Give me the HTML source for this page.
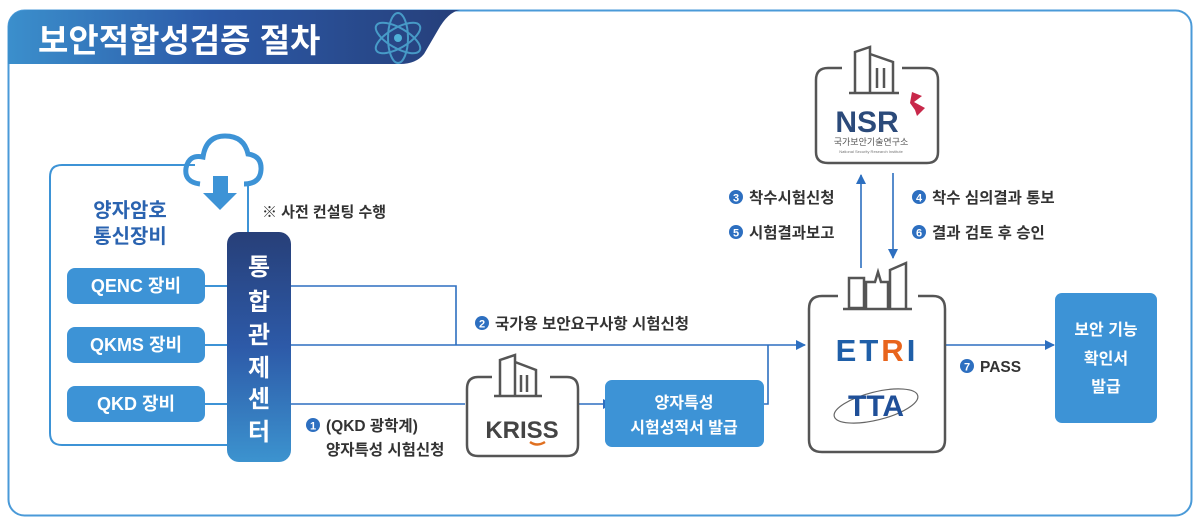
<!DOCTYPE html>
<html><head><meta charset="utf-8">
<style>
body{margin:0;width:1200px;height:521px;background:#fff;overflow:hidden;font-family:"Liberation Sans","Noto Sans CJK KR",sans-serif;}
svg text{font-family:"Liberation Sans","Noto Sans CJK KR",sans-serif;}
</style></head><body>
<svg width="1200" height="521" viewBox="0 0 1200 521" xmlns="http://www.w3.org/2000/svg">
<defs>
<linearGradient id="tg" x1="0" x2="1"><stop offset="0" stop-color="#3b8fcc"/><stop offset="0.45" stop-color="#2c5aa8"/><stop offset="1" stop-color="#263f7a"/></linearGradient>
<linearGradient id="bg" x1="0" y1="0" x2="0" y2="1"><stop offset="0" stop-color="#273f78"/><stop offset="0.5" stop-color="#2d5aa8"/><stop offset="1" stop-color="#3c93cf"/></linearGradient>
<marker id="ar" markerWidth="10" markerHeight="10" refX="9" refY="5" orient="auto" markerUnits="userSpaceOnUse"><path d="M0,0 L10,5 L0,10 z" fill="#2d6fc0"/></marker>
</defs>
<rect x="8.5" y="10.5" width="1183" height="505" rx="16" fill="none" stroke="#4a9ad8" stroke-width="2"/>
<path d="M8,64 L8,30 Q8,10 28,10 L460,10 Q448,12 438,30 L424,54 Q416,64 400,64 Z" fill="url(#tg)"/>
<text x="38" y="52" font-size="33" font-weight="bold" fill="#fff">보안적합성검증 절차</text>
<g stroke="#4fb0d8" stroke-width="2" fill="none" opacity="0.8">
<ellipse cx="398" cy="38" rx="25" ry="10" transform="rotate(30 398 38)"/>
<ellipse cx="398" cy="38" rx="25" ry="10" transform="rotate(-30 398 38)"/>
<ellipse cx="398" cy="38" rx="10" ry="25"/>
</g><circle cx="398" cy="38" r="4" fill="#4fb0d8"/>
<path d="M195,165 L62,165 Q50,165 50,177 L50,433 Q50,445 62,445 L228,445" fill="none" stroke="#3d93d6" stroke-width="2"/>
<line x1="248" y1="185" x2="248" y2="232" stroke="#3d93d6" stroke-width="2"/>
<path d="M200,184 Q184,182 186,168 Q189,154 203,157 Q206,136 225,136 Q244,136 248,154 Q262,156 261,170 Q260,184 244,184" fill="none" stroke="#3d93d6" stroke-width="5"/>
<path d="M213,176 L228,176 L228,193 L237,193 L220,210 L203,193 L213,193 Z" fill="#3d93d6"/>
<text x="130" y="217" font-size="20" font-weight="bold" fill="#2a63b0" text-anchor="middle">양자암호</text>
<text x="130" y="243" font-size="20" font-weight="bold" fill="#2a63b0" text-anchor="middle">통신장비</text>
<text x="262" y="217" font-size="15" font-weight="bold" fill="#333">※ 사전 컨설팅 수행</text>
<g fill="#3d93d6"><rect x="67" y="268" width="138" height="36" rx="8"/><rect x="67" y="327" width="138" height="36" rx="8"/><rect x="67" y="386" width="138" height="36" rx="8"/></g>
<g fill="#fff" font-size="18" font-weight="bold" text-anchor="middle"><text x="136" y="292">QENC 장비</text><text x="136" y="351">QKMS 장비</text><text x="136" y="410">QKD 장비</text></g>
<g stroke="#3d93d6" stroke-width="2"><line x1="205" y1="286" x2="228" y2="286"/><line x1="205" y1="345" x2="228" y2="345"/><line x1="205" y1="404" x2="228" y2="404"/></g>
<rect x="227" y="232" width="64" height="230" rx="12" fill="url(#bg)"/>
<g fill="#fff" font-size="24" font-weight="bold" text-anchor="middle">
<text x="259" y="275">통</text><text x="259" y="310">합</text><text x="259" y="343">관</text><text x="259" y="376">제</text><text x="259" y="407">센</text><text x="259" y="440">터</text></g>
<g stroke="#2d6fc0" stroke-width="1.6" fill="none">
<path d="M291,286 L456,286 L456,345"/>
<path d="M291,345 L805,345" marker-end="url(#ar)"/>
<path d="M291,404 L465,404"/>
<path d="M578,404 L612,404" marker-end="url(#ar)"/>
<path d="M764,404 L768,404 L768,345"/>
<path d="M861,268 L861,175" marker-end="url(#ar)"/>
<path d="M893,173 L893,258" marker-end="url(#ar)"/>
<path d="M946,345 L1054,345" marker-end="url(#ar)"/>
</g>
<g font-size="15.5" font-weight="bold" fill="#333">
<circle cx="482" cy="323" r="7" fill="#2d6fc0"/><text x="482" y="327.5" font-size="11" fill="#fff" text-anchor="middle">2</text>
<text x="495" y="329">국가용 보안요구사항 시험신청</text>
<circle cx="313" cy="425" r="7" fill="#2d6fc0"/><text x="313" y="429.5" font-size="11" fill="#fff" text-anchor="middle">1</text>
<text x="326" y="431">(QKD 광학계)</text>
<text x="326" y="455">양자특성 시험신청</text>
<circle cx="736" cy="197" r="7" fill="#2d6fc0"/><text x="736" y="201.5" font-size="11" fill="#fff" text-anchor="middle">3</text>
<text x="749" y="203">착수시험신청</text>
<circle cx="736" cy="232" r="7" fill="#2d6fc0"/><text x="736" y="236.5" font-size="11" fill="#fff" text-anchor="middle">5</text>
<text x="749" y="238">시험결과보고</text>
<circle cx="919" cy="197" r="7" fill="#2d6fc0"/><text x="919" y="201.5" font-size="11" fill="#fff" text-anchor="middle">4</text>
<text x="932" y="203">착수 심의결과 통보</text>
<circle cx="919" cy="232" r="7" fill="#2d6fc0"/><text x="919" y="236.5" font-size="11" fill="#fff" text-anchor="middle">6</text>
<text x="932" y="238">결과 검토 후 승인</text>
<circle cx="967" cy="366" r="7" fill="#2d6fc0"/><text x="967" y="370.5" font-size="11" fill="#fff" text-anchor="middle">7</text>
<text x="980" y="372">PASS</text>
</g>
<path d="M492,377 L478,377 Q467,377 467,389 L467,445 Q467,456 478,456 L567,456 Q578,456 578,445 L578,389 Q578,377 567,377 L550,377" fill="none" stroke="#555" stroke-width="2.5"/>
<g stroke="#555" stroke-width="2.5" fill="none"><path d="M500,396 L500,360 L515,355 L515,396"/><path d="M515,362 L536,370 L536,396"/><line x1="494" y1="396" x2="542" y2="396"/><line x1="521" y1="375" x2="521" y2="392"/><line x1="527" y1="375" x2="527" y2="392"/></g>
<text x="522" y="438" font-size="24" font-weight="bold" fill="#444" text-anchor="middle">KRISS</text>
<path d="M530,442 Q537,447 545,442" stroke="#e07020" stroke-width="2.5" fill="none"/>
<rect x="605" y="380" width="159" height="67" rx="7" fill="#3d93d6"/>
<text x="684" y="408" font-size="16" font-weight="bold" fill="#fff" text-anchor="middle">양자특성</text>
<text x="684" y="433" font-size="16" font-weight="bold" fill="#fff" text-anchor="middle">시험성적서 발급</text>
<path d="M842,68 L828,68 Q816,68 816,80 L816,152 Q816,163 828,163 L927,163 Q938,163 938,152 L938,80 Q938,68 927,68 L902,68" fill="none" stroke="#555" stroke-width="2.5"/>
<g stroke="#555" stroke-width="2.5" fill="none"><path d="M855,92 L855,52 L870,47 L870,92"/><path d="M870,54 L893,62 L893,92"/><line x1="849" y1="93" x2="899" y2="93"/><line x1="877" y1="68" x2="877" y2="88"/><line x1="884" y1="68" x2="884" y2="88"/></g>
<text x="867" y="132" font-size="30" font-weight="bold" fill="#2b4a7a" text-anchor="middle">NSR</text>
<path d="M912,92 L922,96 L914,102 L925,108 L917,116 L915,110 L910,103 Z" fill="#c8284a"/>
<text x="871" y="145" font-size="9" fill="#555" text-anchor="middle">국가보안기술연구소</text>
<text x="871" y="153" font-size="4" fill="#777" text-anchor="middle">National Security Research Institute</text>
<path d="M838,296 L822,296 Q809,296 809,309 L809,440 Q809,452 822,452 L933,452 Q945,452 945,440 L945,309 Q945,296 933,296 L918,296" fill="none" stroke="#555" stroke-width="2.5"/>
<g stroke="#555" stroke-width="2.5" fill="none"><rect x="849" y="278" width="15" height="30"/><path d="M866,308 L866,282 L875,282 L878,272 L881,282 L888,282 L888,308"/><path d="M890,308 L890,270 L906,263 L906,308"/><line x1="843" y1="309" x2="912" y2="309"/></g>
<text x="877" y="361" font-size="31" font-weight="900" fill="#1f5fa8" text-anchor="middle" letter-spacing="3">ET<tspan fill="#e8641c">R</tspan>I</text>
<ellipse cx="876" cy="406" rx="43" ry="14" transform="rotate(-14 876 406)" fill="none" stroke="#666" stroke-width="1.2"/>
<text x="876" y="416" font-size="30" font-weight="900" fill="#1f4f98" text-anchor="middle">TTA</text>
<rect x="1055" y="293" width="102" height="130" rx="7" fill="#3d93d6"/>
<g fill="#fff" font-size="16" font-weight="bold" text-anchor="middle"><text x="1106" y="335">보안 기능</text><text x="1106" y="364">확인서</text><text x="1106" y="392">발급</text></g>
</svg>
</body></html>
